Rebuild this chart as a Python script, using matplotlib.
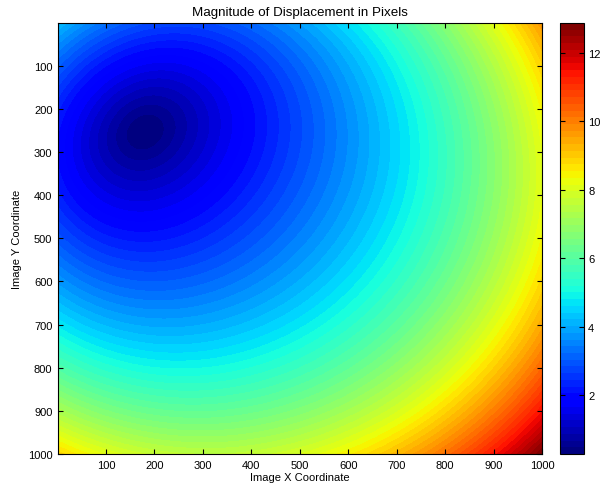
import numpy as np
import matplotlib
matplotlib.use('Agg')
import matplotlib.pyplot as plt

# displacement model:
# zero point (dark blue spot), distortion centre, linear and cubic gains
zero_point = (180, 253)
distortion_centre = (450, 450)
gain_linear = 0.00783
gain_cubic = 8.24e-9
floor_value = 0.28  # smallest value on the colour bar

x_ticks = list(range(100, 1001, 100))
y_ticks = list(range(100, 1001, 100))
cbar_ticks = [2, 4, 6, 8, 10, 12]

xs = np.linspace(1, 1000, 400)
X, Y = np.meshgrid(xs, xs)
x0, y0 = zero_point
cx, cy = distortion_centre
r2 = (X - cx) ** 2 + (Y - cy) ** 2
r02 = (x0 - cx) ** 2 + (y0 - cy) ** 2
dx = gain_linear * (X - x0) + gain_cubic * (r2 * (X - cx) - r02 * (x0 - cx))
dy = gain_linear * (Y - y0) + gain_cubic * (r2 * (Y - cy) - r02 * (y0 - cy))
Z = np.sqrt(dx ** 2 + dy ** 2 + floor_value ** 2)

plt.rcParams['font.family'] = ['Liberation Sans', 'DejaVu Sans']
plt.rcParams['font.size'] = 8

fig = plt.figure(figsize=(6.03, 4.89), dpi=100)
ax = fig.add_axes([58 / 603, 1 - 455 / 489, 484 / 603, 431 / 489])
cax = fig.add_axes([560 / 603, 1 - 455 / 489, 24 / 603, 431 / 489])

levels = np.linspace(Z.min(), Z.max(), 65)
cmap = plt.get_cmap('jet', 64)
cs = ax.contourf(X, Y, Z, levels=levels, cmap=cmap, vmin=Z.min(), vmax=Z.max())

ax.set_xlim(1, 1000)
ax.set_ylim(1000, 1)
ax.set_xticks(x_ticks)
ax.set_yticks(y_ticks)
ax.tick_params(direction='in', top=True, right=True, length=3.4, pad=4)
ax.set_title('Magnitude of Displacement in Pixels', pad=6)
ax.set_xlabel('Image X Coordinate', labelpad=2)
ax.set_ylabel('Image Y Coordinate', labelpad=4)

cb = fig.colorbar(cs, cax=cax)
cb.set_ticks(cbar_ticks)
cb.set_ticklabels([str(t) for t in cbar_ticks])
cax.tick_params(direction='in', left=True, right=True, length=3.4, pad=3)
cb.outline.set_linewidth(0.8)

fig.savefig('out.png', dpi=100)
